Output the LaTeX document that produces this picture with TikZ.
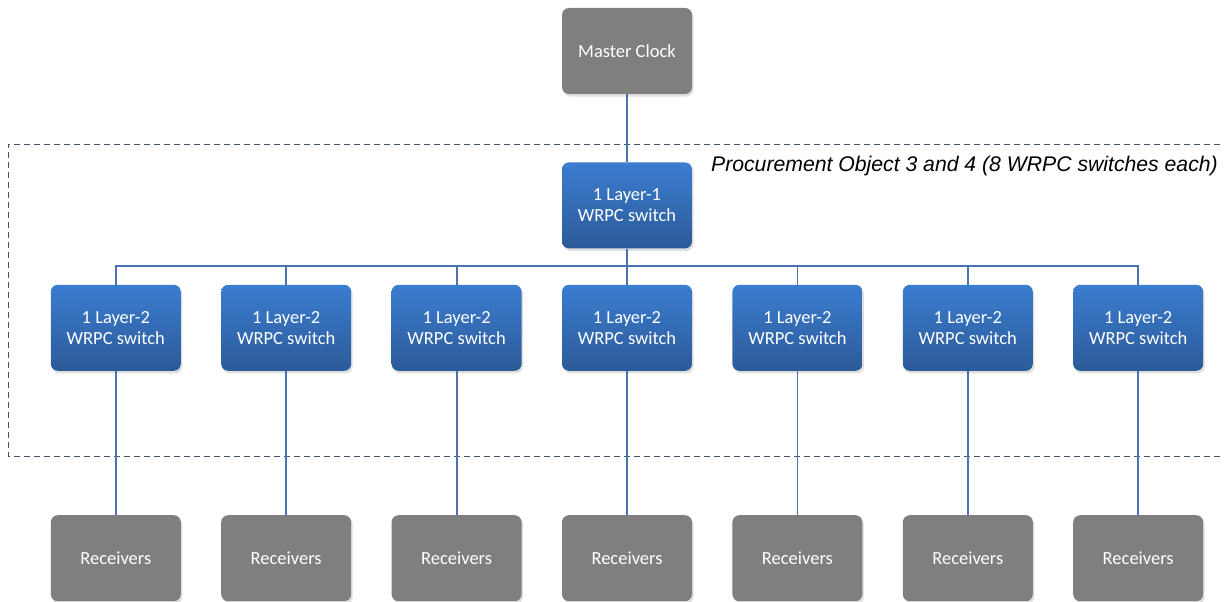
\documentclass[tikz,border=0pt]{standalone}
\usepackage{fontspec}
\setmainfont{Carlito}
\newfontfamily\labelfont{Liberation Sans}
\usetikzlibrary{positioning,shadows}
\definecolor{boxgray}{HTML}{7F7F7F}
\definecolor{swtop}{HTML}{3B7DD0}
\definecolor{swbot}{HTML}{2C5A98}
\definecolor{linkblue}{HTML}{4A72B0}
\definecolor{framegray}{HTML}{44546A}

\begin{document}
\begin{tikzpicture}[x=1pt,y=-1pt,node distance=40pt,
    box/.style={rounded corners=7pt,minimum width=130pt,minimum height=86pt,
      align=center,text=white,font=\fontsize{18.5}{21}\selectfont,
      drop shadow={opacity=0.25,shadow xshift=1.5pt,shadow yshift=-2.5pt}},
    clock/.style={box,fill=boxgray},
    rx/.style={box,fill=boxgray},
    sw/.style={box,top color=swtop,bottom color=swbot},
    link/.style={-,linkblue,line width=1.8pt},
    bus/.style={to path={(\tikztostart.south) -- ++(0,17) -| (\tikztotarget.north)}}]
    \useasboundingbox (0,0) rectangle (1224,602);

    \node[clock] (mc) at (627,51) {Master Clock};
    \node[sw,below=68pt of mc] (l1) {1 Layer-1\\WRPC switch};

    \node[sw,below=36pt of l1] (s4) {1 Layer-2\\WRPC switch};
    \node[sw,left=of s4] (s3) {1 Layer-2\\WRPC switch};
    \node[sw,left=of s3] (s2) {1 Layer-2\\WRPC switch};
    \node[sw,left=of s2] (s1) {1 Layer-2\\WRPC switch};
    \node[sw,right=of s4] (s5) {1 Layer-2\\WRPC switch};
    \node[sw,right=of s5] (s6) {1 Layer-2\\WRPC switch};
    \node[sw,right=of s6] (s7) {1 Layer-2\\WRPC switch};

    \node[rx,below=144pt of s1] (r1) {Receivers};
    \node[rx,below=144pt of s2] (r2) {Receivers};
    \node[rx,below=144pt of s3] (r3) {Receivers};
    \node[rx,below=144pt of s4] (r4) {Receivers};
    \node[rx,below=144pt of s5] (r5) {Receivers};
    \node[rx,below=144pt of s6] (r6) {Receivers};
    \node[rx,below=144pt of s7] (r7) {Receivers};

    % procurement frame, open to the right
    \draw[framegray,line width=1pt,dash pattern=on 6pt off 4pt]
      (1230,144) -- (8,144) -- (8,456) -- (1230,456);
    \node[anchor=base east,inner sep=0pt,font=\labelfont\itshape\fontsize{21.2}{24}\selectfont]
      (po) at (1218,171) {Procurement Object 3 and 4 (8 WRPC switches each)};

    \path[link]
    (mc) edge (l1)
    (l1) edge[bus] (s1)
         edge[bus] (s2)
         edge[bus] (s3)
         edge[bus] (s4)
         edge[bus] (s5)
         edge[bus] (s6)
         edge[bus] (s7)
    (s1) edge (r1)
    (s2) edge (r2)
    (s3) edge (r3)
    (s4) edge (r4)
    (s5) edge (r5)
    (s6) edge (r6)
    (s7) edge (r7)
    ;
\end{tikzpicture}
\end{document}
